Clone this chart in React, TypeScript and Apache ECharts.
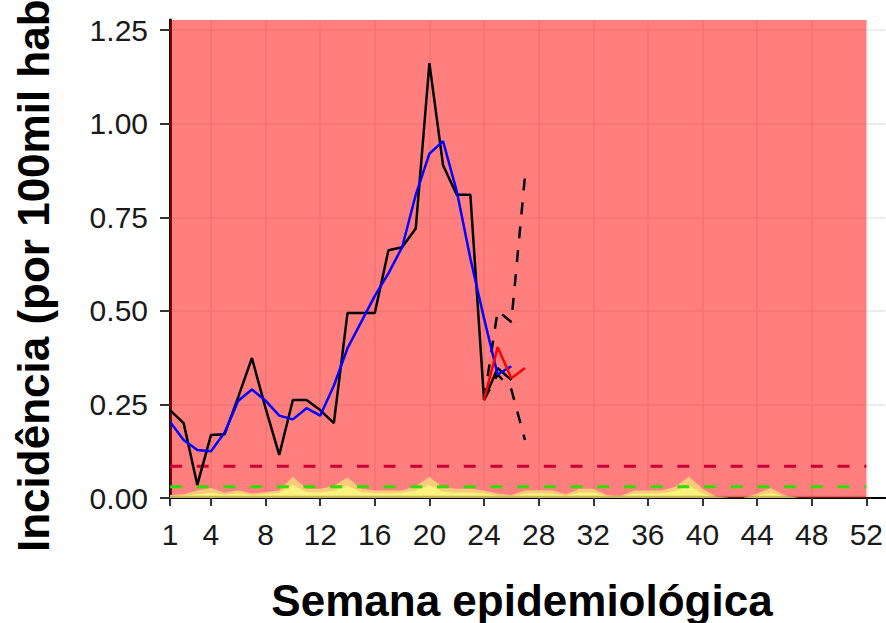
import React, { useEffect, useRef } from "react";
import * as echarts from "echarts";

const FONT = '"Liberation Sans", Arial, Helvetica, sans-serif';

const X_TICKS = [1, 4, 8, 12, 16, 20, 24, 28, 32, 36, 40, 44, 48, 52];
const Y_TICKS = [0, 0.25, 0.5, 0.75, 1.0, 1.25];
const X_MIN = 1;
const X_MAX = 53.39;
const Y_MAX = 1.277;
const ZONE_END = 52;

// observed incidence, weeks 1..26
const OBSERVED = [0.235, 0.2, 0.035, 0.168, 0.17, 0.27, 0.374, 0.24, 0.115, 0.262, 0.262, 0.235, 0.2, 0.494, 0.494, 0.494, 0.662, 0.67, 0.72, 1.162, 0.889, 0.81, 0.81, 0.262, 0.347, 0.315];
// moving average, weeks 1..26
const SMOOTH = [0.204, 0.155, 0.128, 0.125, 0.175, 0.26, 0.29, 0.26, 0.22, 0.21, 0.24, 0.22, 0.3, 0.4, 0.47, 0.54, 0.6, 0.67, 0.81, 0.92, 0.953, 0.82, 0.64, 0.48, 0.33, 0.352];
// nowcast estimate and interval, weeks 24..27
const NOW_WEEKS = [24, 25, 26, 27];
const NOWCAST = [0.262, 0.403, 0.32, 0.347];
const CI_UPPER = [0.262, 0.5, 0.47, 0.86];
const CI_LOWER = [0.262, 0.33, 0.29, 0.155];

// thresholds
const HIGH_THRESHOLD = 0.085;
const PRE_THRESHOLD = 0.03;

// typical-curve bands, weeks 1..52
const BAND_ORANGE = [0.008, 0.01, 0.02, 0.027, 0.014, 0.021, 0.012, 0.016, 0.02, 0.057, 0.025, 0.025, 0.033, 0.055, 0.025, 0.02, 0.02, 0.02, 0.032, 0.057, 0.028, 0.025, 0.025, 0.02, 0.012, 0.008, 0.02, 0.021, 0.02, 0.01, 0.025, 0.025, 0.008, 0.006, 0.02, 0.02, 0.02, 0.03, 0.057, 0.025, 0.004, 0, 0, 0.012, 0.027, 0.008, 0, 0, 0, 0, 0, 0];
const BAND_YELLOW = [0.005, 0.006, 0.01, 0.014, 0.009, 0.013, 0.008, 0.01, 0.014, 0.035, 0.016, 0.015, 0.02, 0.033, 0.016, 0.013, 0.013, 0.014, 0.02, 0.035, 0.017, 0.015, 0.015, 0.012, 0.007, 0.005, 0.012, 0.013, 0.012, 0.006, 0.015, 0.015, 0.005, 0.004, 0.012, 0.012, 0.013, 0.019, 0.034, 0.012, 0.002, 0, 0, 0.006, 0.014, 0.004, 0, 0, 0, 0, 0, 0];
const BAND_GREEN = [0.006, 0.006, 0.006, 0.006, 0.006, 0.006, 0.006, 0.006, 0.006, 0.006, 0.006, 0.006, 0.006, 0.006, 0.006, 0.006, 0.006, 0.006, 0.006, 0.006, 0.006, 0.006, 0.006, 0.006, 0.006, 0.006, 0.006, 0.006, 0.006, 0.006, 0.006, 0.006, 0.006, 0.006, 0.006, 0.006, 0.006, 0.006, 0.006, 0.006, 0.006, 0.006, 0.006, 0.006, 0.006, 0.006, 0.006, 0.006, 0.006, 0.006, 0.006, 0.006];

const byWeek = (arr: number[], start = 1) => arr.map((v, i) => [start + i, v]);

export default function App() {
  const ref = useRef<HTMLDivElement>(null);
  useEffect(() => {
    if (!ref.current) return;
    const chart = echarts.init(ref.current, null, { renderer: "svg" });
    const lineBase = { type: "line", symbol: "none", silent: true, smooth: false };
    const option: any = {
      animation: false,
      backgroundColor: "#fff",
      grid: { left: 170, right: 0, top: 20, bottom: 125, containLabel: false },
      xAxis: {
        type: "value",
        min: X_MIN,
        max: X_MAX,
        axisLine: { show: true, onZero: false, lineStyle: { color: "#000", width: 2 } },
        axisTick: { show: true, customValues: X_TICKS, length: 8, lineStyle: { color: "#333", width: 2 } },
        axisLabel: { customValues: X_TICKS, fontSize: 30, color: "#1a1a1a", margin: 21, fontFamily: FONT },
        splitLine: { show: false },
      },
      yAxis: {
        type: "value",
        min: 0,
        max: Y_MAX,
        axisLine: { show: true, lineStyle: { color: "#000", width: 3 } },
        axisTick: { show: true, customValues: Y_TICKS, length: 10, lineStyle: { color: "#333", width: 2 } },
        axisLabel: {
          customValues: Y_TICKS,
          formatter: (v: number) => v.toFixed(2),
          fontSize: 30,
          color: "#1a1a1a",
          margin: 22,
          fontFamily: FONT,
        },
        splitLine: { show: false },
      },
      series: [
        {
          ...lineBase,
          name: "grid",
          data: [[1, 0]],
          lineStyle: { width: 0 },
          z: 1,
          markLine: {
            z: 0,
            silent: true,
            symbol: ["none", "none"],
            label: { show: false },
            lineStyle: { color: "#E6E6E6", width: 1.5, type: "solid" },
            emphasis: { disabled: true },
            data: [...X_TICKS.map((v) => ({ xAxis: v })), ...Y_TICKS.map((v) => ({ yAxis: v }))],
          },
        },
        {
          ...lineBase,
          name: "zone",
          data: [[1, 0]],
          lineStyle: { width: 0 },
          z: 1,
          markArea: {
            z: 1,
            silent: true,
            itemStyle: { color: "rgba(255,0,0,0.5)" },
            data: [[{ xAxis: X_MIN, yAxis: 0 }, { xAxis: ZONE_END, yAxis: Y_MAX }]],
          },
        },
        { ...lineBase, name: "orange", data: byWeek(BAND_ORANGE), lineStyle: { width: 0 }, areaStyle: { color: "#FACB7A", opacity: 1 }, z: 2 },
        { ...lineBase, name: "yellow", data: byWeek(BAND_YELLOW), lineStyle: { width: 0 }, areaStyle: { color: "#F9F27C", opacity: 1 }, z: 2 },
        { ...lineBase, name: "green", data: byWeek(BAND_GREEN), lineStyle: { width: 0 }, areaStyle: { color: "rgba(110,70,40,0.35)", opacity: 1 }, z: 2 },
        {
          ...lineBase,
          name: "high",
          data: [[X_MIN, HIGH_THRESHOLD], [ZONE_END, HIGH_THRESHOLD]],
          lineStyle: { color: "#CC0033", width: 3, type: [12, 14.7] },
          z: 3,
        },
        {
          ...lineBase,
          name: "pre",
          data: [[X_MIN, PRE_THRESHOLD], [ZONE_END, PRE_THRESHOLD]],
          lineStyle: { color: "#33DD00", width: 3, type: [12, 14.7] },
          z: 3,
        },
        { ...lineBase, name: "observed", data: byWeek(OBSERVED), lineStyle: { color: "#000", width: 2.5 }, z: 4 },
        {
          ...lineBase,
          name: "upper",
          data: NOW_WEEKS.map((w, i) => [w, CI_UPPER[i]]),
          lineStyle: { color: "#000", width: 2.5, type: [12, 12] },
          z: 4,
        },
        {
          ...lineBase,
          name: "lower",
          data: NOW_WEEKS.map((w, i) => [w, CI_LOWER[i]]),
          lineStyle: { color: "#000", width: 2.5, type: [12, 12] },
          z: 4,
        },
        { ...lineBase, name: "smooth", data: byWeek(SMOOTH), lineStyle: { color: "#0000FF", width: 2.5 }, z: 5 },
        {
          ...lineBase,
          name: "nowcast",
          data: NOW_WEEKS.map((w, i) => [w, NOWCAST[i]]),
          lineStyle: { color: "#FF0000", width: 2.5 },
          z: 6,
        },
      ],
      graphic: [
        {
          type: "text",
          x: 33,
          y: 552,
          rotation: Math.PI / 2,
          style: {
            text: "Incidência (por 100mil habitantes)",
            font: `bold 44px ${FONT}`,
            fill: "#000",
            align: "left",
            verticalAlign: "middle",
          },
        },
        {
          type: "text",
          x: 522,
          y: 600,
          style: {
            text: "Semana epidemiológica",
            font: `bold 44px ${FONT}`,
            fill: "#000",
            align: "center",
            verticalAlign: "middle",
          },
        },
      ],
    };
    chart.setOption(option);
    return () => chart.dispose();
  }, []);
  return (
    <div
      ref={ref}
      style={{ position: "fixed", left: 0, top: 0, width: 886, height: 623, background: "#fff" }}
    />
  );
}
